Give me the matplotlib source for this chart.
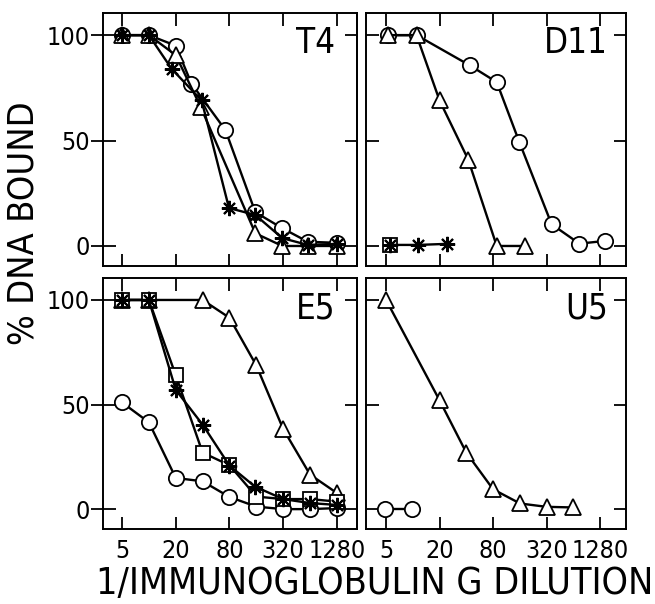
import matplotlib.pyplot as plt

plt.rcParams['font.family'] = ['DejaVu Sans']
plt.rcParams['font.stretch'] = 'condensed'

# dilution (x) and % DNA bound (y)
t4_circle_x = [5, 10, 20, 30, 72, 156, 313, 604, 1280]
t4_circle_y = [100, 100, 95, 77, 55, 16, 8.4, 2, 1.5]
t4_tri_x = [5, 10, 20, 38, 156, 313, 604, 1280]
t4_tri_y = [100, 100, 90.5, 66, 6, 0, 0, 0]
t4_star_x = [5, 10, 18, 39, 79, 156, 313, 604, 1280]
t4_star_y = [100, 100, 84, 69, 18, 14.7, 3.7, 0.5, 1]

d11_circle_x = [5.2, 11, 44, 88, 158, 365, 750, 1460]
d11_circle_y = [100, 100, 85.6, 77.7, 49.3, 10.3, 1.1, 2.4]
d11_tri_x = [5.2, 11, 20, 42, 88, 184]
d11_tri_y = [100, 100, 69, 41, 0, 0]
d11_square_x = [5.5]
d11_square_y = [0.5]
d11_star_x = [5.5, 11.5, 24]
d11_star_y = [0.5, 0.5, 1]

e5_circle_x = [5, 10, 20, 40, 80, 160, 320, 640, 1280]
e5_circle_y = [51, 41.5, 14.9, 13.3, 5.8, 1.2, 0, 0, 0.5]
e5_tri_x = [5, 10, 40, 80, 160, 320, 640, 1280]
e5_tri_y = [100, 100, 100, 91.5, 68.7, 38.3, 16.5, 7.7]
e5_square_x = [5, 10, 20, 40, 80, 160, 320, 640, 1280]
e5_square_y = [100, 100, 64, 27, 21, 6, 4.8, 4.8, 3.6]
e5_star_x = [5, 10, 20, 40, 80, 154, 320, 640, 1280]
e5_star_y = [100, 100, 57, 40.4, 20.8, 10.8, 4.8, 2.9, 2]

u5_circle_x = [4.8, 9.8]
u5_circle_y = [0, 0]
u5_tri_x = [5, 20, 40, 80, 161, 320, 640]
u5_tri_y = [100, 52, 27, 9.5, 2.7, 1.1, 0.8]

xticks = [5, 20, 80, 320, 1280]
yticks = [0, 50, 100]

W, H = 655, 604
fig = plt.figure(figsize=(W / 100, H / 100), dpi=100)


def make_ax(left, top, right, bottom):
    return fig.add_axes([left / W, 1 - bottom / H, (right - left) / W, (bottom - top) / H])


ax_t4 = make_ax(103, 13, 357, 266)
ax_d11 = make_ax(366, 13, 626, 266)
ax_e5 = make_ax(103, 278, 357, 529)
ax_u5 = make_ax(366, 278, 626, 529)

circle = dict(marker='o', ms=11, mfc='white', mec='black', mew=1.3)
tri = dict(marker='^', ms=12, mfc='white', mec='black', mew=1.3)
square = dict(marker='s', ms=10, mfc='white', mec='black', mew=1.3)
star = dict(marker=(8, 2, 0), ms=11, mfc='black', mec='black', mew=1.5)
line = dict(color='black', lw=1.7)

ax_t4.plot(t4_circle_x, t4_circle_y, **line, **circle)
ax_t4.plot(t4_tri_x, t4_tri_y, **line, **tri)
ax_t4.plot(t4_star_x, t4_star_y, **line, **star)

ax_d11.plot(d11_circle_x, d11_circle_y, **line, **circle)
ax_d11.plot(d11_tri_x, d11_tri_y, **line, **tri)
ax_d11.plot(d11_square_x, d11_square_y, **line, **square)
ax_d11.plot(d11_star_x, d11_star_y, **line, **star)

ax_e5.plot(e5_circle_x, e5_circle_y, **line, **circle)
ax_e5.plot(e5_tri_x, e5_tri_y, **line, **tri)
ax_e5.plot(e5_square_x, e5_square_y, **line, **square)
ax_e5.plot(e5_star_x, e5_star_y, **line, **star)

ax_u5.plot(u5_circle_x, u5_circle_y, **line, **circle)
ax_u5.plot(u5_tri_x, u5_tri_y, **line, **tri)

labels = {ax_t4: 'T4', ax_d11: 'D11', ax_e5: 'E5', ax_u5: 'U5'}

for ax in [ax_t4, ax_d11, ax_e5, ax_u5]:
    is_left = ax in (ax_t4, ax_e5)
    is_bottom = ax in (ax_e5, ax_u5)
    ax.set_xscale('log', base=2)
    if is_left:
        ax.set_xlim(3.06, 2150)
    else:
        ax.set_xlim(2.97, 2510)
    ax.set_ylim(-9.5, 110.5)
    ax.set_xticks(xticks)
    ax.set_xticklabels([str(v) for v in xticks] if is_bottom else [])
    ax.minorticks_off()
    ax.set_yticks(yticks)
    ax.tick_params(axis='x', direction='in', length=9, width=1.3, top=True,
                   labelsize=18, pad=7)
    for s in ax.spines.values():
        s.set_linewidth(1.4)
    if is_left:
        ax.set_yticklabels([str(v) for v in yticks])
        ax.tick_params(axis='y', direction='inout', length=18, width=1.3,
                       right=False, labelsize=18, pad=0.5)
        sec = ax.secondary_yaxis('right')
        sec.set_yticks(yticks)
        sec.tick_params(direction='in', length=9, width=1.3, labelright=False)
        sec.spines['right'].set_linewidth(1.4)
    else:
        ax.set_yticklabels([])
        ax.tick_params(axis='y', direction='in', length=9, width=1.3, right=True)
    ax.text(0.915 if is_left else 0.93, 0.84, labels[ax], transform=ax.transAxes,
            ha='right', va='baseline', fontsize=25)

fig.text(0.036, 1 - 223 / H, '% DNA BOUND', rotation=90, ha='center', va='center',
         fontsize=26)
fig.text(375 / W, 1 - 584 / H, '1/IMMUNOGLOBULIN G DILUTION', ha='center', va='center',
         fontsize=27)

fig.savefig('out.png', dpi=100)
